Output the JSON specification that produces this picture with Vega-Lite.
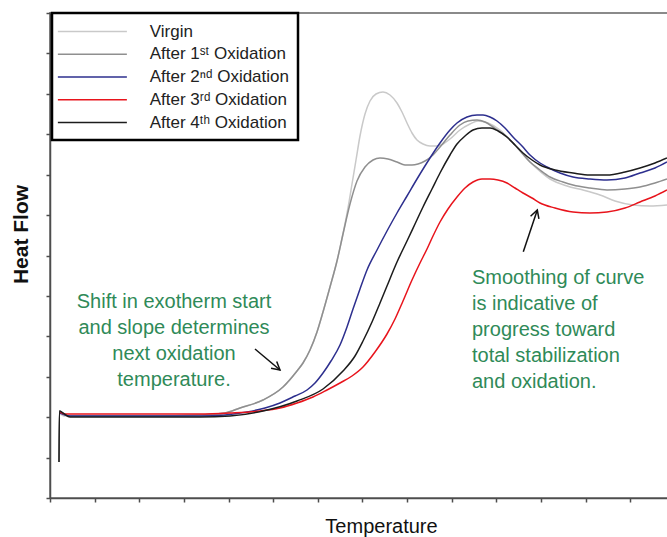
{
  "$schema": "https://vega.github.io/schema/vega-lite/v6.json",
  "width": 619,
  "height": 485,
  "autosize": {"type": "none"},
  "padding": {"left": 50, "top": 13, "right": 0, "bottom": 39},
  "background": "white",
  "config": {
    "view": {"stroke": "#8a8a8a", "strokeWidth": 2},
    "font": "Liberation Sans"
  },
  "datasets": {
    "curves": [
      {"s": "Virgin", "t": 10, "h": 85}, {"s": "Virgin", "t": 14, "h": 82}, {"s": "Virgin", "t": 50, "h": 82}, {"s": "Virgin", "t": 100, "h": 82}, {"s": "Virgin", "t": 150, "h": 83}, {"s": "Virgin", "t": 175, "h": 85}, {"s": "Virgin", "t": 190, "h": 90}, {"s": "Virgin", "t": 213, "h": 98}, {"s": "Virgin", "t": 233, "h": 111}, {"s": "Virgin", "t": 247, "h": 127}, {"s": "Virgin", "t": 253, "h": 135}, {"s": "Virgin", "t": 260, "h": 148}, {"s": "Virgin", "t": 267, "h": 166}, {"s": "Virgin", "t": 273, "h": 186}, {"s": "Virgin", "t": 280, "h": 211}, {"s": "Virgin", "t": 287, "h": 237}, {"s": "Virgin", "t": 293, "h": 264}, {"s": "Virgin", "t": 298, "h": 290}, {"s": "Virgin", "t": 302, "h": 314}, {"s": "Virgin", "t": 306, "h": 338}, {"s": "Virgin", "t": 310, "h": 362}, {"s": "Virgin", "t": 315, "h": 384}, {"s": "Virgin", "t": 320, "h": 397}, {"s": "Virgin", "t": 326, "h": 404}, {"s": "Virgin", "t": 333, "h": 406}, {"s": "Virgin", "t": 340, "h": 403}, {"s": "Virgin", "t": 347, "h": 395}, {"s": "Virgin", "t": 352, "h": 386}, {"s": "Virgin", "t": 357, "h": 375}, {"s": "Virgin", "t": 362, "h": 365}, {"s": "Virgin", "t": 367, "h": 358}, {"s": "Virgin", "t": 373, "h": 354}, {"s": "Virgin", "t": 380, "h": 352}, {"s": "Virgin", "t": 387, "h": 352}, {"s": "Virgin", "t": 393, "h": 354}, {"s": "Virgin", "t": 400, "h": 359}, {"s": "Virgin", "t": 410, "h": 368}, {"s": "Virgin", "t": 420, "h": 374}, {"s": "Virgin", "t": 428, "h": 377}, {"s": "Virgin", "t": 438, "h": 375}, {"s": "Virgin", "t": 450, "h": 368}, {"s": "Virgin", "t": 463, "h": 355}, {"s": "Virgin", "t": 480, "h": 336}, {"s": "Virgin", "t": 500, "h": 319}, {"s": "Virgin", "t": 517, "h": 312}, {"s": "Virgin", "t": 533, "h": 308}, {"s": "Virgin", "t": 550, "h": 303}, {"s": "Virgin", "t": 565, "h": 297}, {"s": "Virgin", "t": 583, "h": 293}, {"s": "Virgin", "t": 600, "h": 292}, {"s": "Virgin", "t": 617, "h": 293},

      {"s": "After 1ˢᵗ Oxidation", "t": 9, "h": 36}, {"s": "After 1ˢᵗ Oxidation", "t": 9.4, "h": 87}, {"s": "After 1ˢᵗ Oxidation", "t": 13, "h": 84}, {"s": "After 1ˢᵗ Oxidation", "t": 20, "h": 82}, {"s": "After 1ˢᵗ Oxidation", "t": 50, "h": 82}, {"s": "After 1ˢᵗ Oxidation", "t": 100, "h": 82}, {"s": "After 1ˢᵗ Oxidation", "t": 150, "h": 83}, {"s": "After 1ˢᵗ Oxidation", "t": 175, "h": 85}, {"s": "After 1ˢᵗ Oxidation", "t": 190, "h": 90}, {"s": "After 1ˢᵗ Oxidation", "t": 213, "h": 98}, {"s": "After 1ˢᵗ Oxidation", "t": 233, "h": 111}, {"s": "After 1ˢᵗ Oxidation", "t": 247, "h": 127}, {"s": "After 1ˢᵗ Oxidation", "t": 253, "h": 135}, {"s": "After 1ˢᵗ Oxidation", "t": 260, "h": 148}, {"s": "After 1ˢᵗ Oxidation", "t": 267, "h": 166}, {"s": "After 1ˢᵗ Oxidation", "t": 273, "h": 186}, {"s": "After 1ˢᵗ Oxidation", "t": 280, "h": 211}, {"s": "After 1ˢᵗ Oxidation", "t": 287, "h": 237}, {"s": "After 1ˢᵗ Oxidation", "t": 293, "h": 264}, {"s": "After 1ˢᵗ Oxidation", "t": 300, "h": 294}, {"s": "After 1ˢᵗ Oxidation", "t": 307, "h": 317}, {"s": "After 1ˢᵗ Oxidation", "t": 315, "h": 331}, {"s": "After 1ˢᵗ Oxidation", "t": 323, "h": 338}, {"s": "After 1ˢᵗ Oxidation", "t": 330, "h": 340}, {"s": "After 1ˢᵗ Oxidation", "t": 338, "h": 339}, {"s": "After 1ˢᵗ Oxidation", "t": 347, "h": 336}, {"s": "After 1ˢᵗ Oxidation", "t": 355, "h": 333}, {"s": "After 1ˢᵗ Oxidation", "t": 362, "h": 333}, {"s": "After 1ˢᵗ Oxidation", "t": 368, "h": 334}, {"s": "After 1ˢᵗ Oxidation", "t": 375, "h": 337}, {"s": "After 1ˢᵗ Oxidation", "t": 383, "h": 343}, {"s": "After 1ˢᵗ Oxidation", "t": 390, "h": 351}, {"s": "After 1ˢᵗ Oxidation", "t": 400, "h": 363}, {"s": "After 1ˢᵗ Oxidation", "t": 410, "h": 373}, {"s": "After 1ˢᵗ Oxidation", "t": 418, "h": 377}, {"s": "After 1ˢᵗ Oxidation", "t": 427, "h": 378}, {"s": "After 1ˢᵗ Oxidation", "t": 435, "h": 376}, {"s": "After 1ˢᵗ Oxidation", "t": 443, "h": 371}, {"s": "After 1ˢᵗ Oxidation", "t": 453, "h": 364}, {"s": "After 1ˢᵗ Oxidation", "t": 463, "h": 355}, {"s": "After 1ˢᵗ Oxidation", "t": 472, "h": 345}, {"s": "After 1ˢᵗ Oxidation", "t": 480, "h": 336}, {"s": "After 1ˢᵗ Oxidation", "t": 490, "h": 328}, {"s": "After 1ˢᵗ Oxidation", "t": 500, "h": 321}, {"s": "After 1ˢᵗ Oxidation", "t": 513, "h": 316}, {"s": "After 1ˢᵗ Oxidation", "t": 523, "h": 313}, {"s": "After 1ˢᵗ Oxidation", "t": 540, "h": 310}, {"s": "After 1ˢᵗ Oxidation", "t": 557, "h": 308}, {"s": "After 1ˢᵗ Oxidation", "t": 575, "h": 309}, {"s": "After 1ˢᵗ Oxidation", "t": 590, "h": 311}, {"s": "After 1ˢᵗ Oxidation", "t": 605, "h": 315}, {"s": "After 1ˢᵗ Oxidation", "t": 617, "h": 319},

      {"s": "After 2ⁿᵈ Oxidation", "t": 10, "h": 85}, {"s": "After 2ⁿᵈ Oxidation", "t": 20, "h": 82}, {"s": "After 2ⁿᵈ Oxidation", "t": 50, "h": 82}, {"s": "After 2ⁿᵈ Oxidation", "t": 100, "h": 82}, {"s": "After 2ⁿᵈ Oxidation", "t": 150, "h": 82}, {"s": "After 2ⁿᵈ Oxidation", "t": 175, "h": 83}, {"s": "After 2ⁿᵈ Oxidation", "t": 197, "h": 86}, {"s": "After 2ⁿᵈ Oxidation", "t": 215, "h": 90}, {"s": "After 2ⁿᵈ Oxidation", "t": 230, "h": 95}, {"s": "After 2ⁿᵈ Oxidation", "t": 245, "h": 102}, {"s": "After 2ⁿᵈ Oxidation", "t": 257, "h": 108}, {"s": "After 2ⁿᵈ Oxidation", "t": 265, "h": 115}, {"s": "After 2ⁿᵈ Oxidation", "t": 273, "h": 125}, {"s": "After 2ⁿᵈ Oxidation", "t": 281, "h": 137}, {"s": "After 2ⁿᵈ Oxidation", "t": 290, "h": 153}, {"s": "After 2ⁿᵈ Oxidation", "t": 297, "h": 171}, {"s": "After 2ⁿᵈ Oxidation", "t": 303, "h": 189}, {"s": "After 2ⁿᵈ Oxidation", "t": 310, "h": 209}, {"s": "After 2ⁿᵈ Oxidation", "t": 317, "h": 228}, {"s": "After 2ⁿᵈ Oxidation", "t": 327, "h": 248}, {"s": "After 2ⁿᵈ Oxidation", "t": 337, "h": 267}, {"s": "After 2ⁿᵈ Oxidation", "t": 347, "h": 285}, {"s": "After 2ⁿᵈ Oxidation", "t": 357, "h": 302}, {"s": "After 2ⁿᵈ Oxidation", "t": 367, "h": 319}, {"s": "After 2ⁿᵈ Oxidation", "t": 380, "h": 340}, {"s": "After 2ⁿᵈ Oxidation", "t": 390, "h": 355}, {"s": "After 2ⁿᵈ Oxidation", "t": 400, "h": 368}, {"s": "After 2ⁿᵈ Oxidation", "t": 407, "h": 375}, {"s": "After 2ⁿᵈ Oxidation", "t": 417, "h": 381}, {"s": "After 2ⁿᵈ Oxidation", "t": 427, "h": 383}, {"s": "After 2ⁿᵈ Oxidation", "t": 433, "h": 383}, {"s": "After 2ⁿᵈ Oxidation", "t": 440, "h": 381}, {"s": "After 2ⁿᵈ Oxidation", "t": 447, "h": 377}, {"s": "After 2ⁿᵈ Oxidation", "t": 455, "h": 370}, {"s": "After 2ⁿᵈ Oxidation", "t": 463, "h": 361}, {"s": "After 2ⁿᵈ Oxidation", "t": 472, "h": 352}, {"s": "After 2ⁿᵈ Oxidation", "t": 480, "h": 343}, {"s": "After 2ⁿᵈ Oxidation", "t": 490, "h": 335}, {"s": "After 2ⁿᵈ Oxidation", "t": 497, "h": 331}, {"s": "After 2ⁿᵈ Oxidation", "t": 510, "h": 325}, {"s": "After 2ⁿᵈ Oxidation", "t": 523, "h": 321}, {"s": "After 2ⁿᵈ Oxidation", "t": 540, "h": 319}, {"s": "After 2ⁿᵈ Oxidation", "t": 557, "h": 318}, {"s": "After 2ⁿᵈ Oxidation", "t": 575, "h": 320}, {"s": "After 2ⁿᵈ Oxidation", "t": 590, "h": 325}, {"s": "After 2ⁿᵈ Oxidation", "t": 605, "h": 330}, {"s": "After 2ⁿᵈ Oxidation", "t": 617, "h": 336},

      {"s": "After 3ʳᵈ Oxidation", "t": 10, "h": 86}, {"s": "After 3ʳᵈ Oxidation", "t": 15, "h": 84}, {"s": "After 3ʳᵈ Oxidation", "t": 50, "h": 84}, {"s": "After 3ʳᵈ Oxidation", "t": 100, "h": 84}, {"s": "After 3ʳᵈ Oxidation", "t": 150, "h": 84}, {"s": "After 3ʳᵈ Oxidation", "t": 180, "h": 85}, {"s": "After 3ʳᵈ Oxidation", "t": 210, "h": 87}, {"s": "After 3ʳᵈ Oxidation", "t": 230, "h": 90}, {"s": "After 3ʳᵈ Oxidation", "t": 247, "h": 95}, {"s": "After 3ʳᵈ Oxidation", "t": 263, "h": 101}, {"s": "After 3ʳᵈ Oxidation", "t": 277, "h": 108}, {"s": "After 3ʳᵈ Oxidation", "t": 290, "h": 115}, {"s": "After 3ʳᵈ Oxidation", "t": 302, "h": 122}, {"s": "After 3ʳᵈ Oxidation", "t": 313, "h": 131}, {"s": "After 3ʳᵈ Oxidation", "t": 325, "h": 146}, {"s": "After 3ʳᵈ Oxidation", "t": 337, "h": 164}, {"s": "After 3ʳᵈ Oxidation", "t": 345, "h": 179}, {"s": "After 3ʳᵈ Oxidation", "t": 353, "h": 197}, {"s": "After 3ʳᵈ Oxidation", "t": 362, "h": 218}, {"s": "After 3ʳᵈ Oxidation", "t": 370, "h": 235}, {"s": "After 3ʳᵈ Oxidation", "t": 377, "h": 249}, {"s": "After 3ʳᵈ Oxidation", "t": 383, "h": 262}, {"s": "After 3ʳᵈ Oxidation", "t": 390, "h": 276}, {"s": "After 3ʳᵈ Oxidation", "t": 398, "h": 289}, {"s": "After 3ʳᵈ Oxidation", "t": 407, "h": 301}, {"s": "After 3ʳᵈ Oxidation", "t": 415, "h": 310}, {"s": "After 3ʳᵈ Oxidation", "t": 423, "h": 316}, {"s": "After 3ʳᵈ Oxidation", "t": 432, "h": 319}, {"s": "After 3ʳᵈ Oxidation", "t": 440, "h": 319}, {"s": "After 3ʳᵈ Oxidation", "t": 448, "h": 318}, {"s": "After 3ʳᵈ Oxidation", "t": 457, "h": 315}, {"s": "After 3ʳᵈ Oxidation", "t": 465, "h": 310}, {"s": "After 3ʳᵈ Oxidation", "t": 473, "h": 305}, {"s": "After 3ʳᵈ Oxidation", "t": 482, "h": 300}, {"s": "After 3ʳᵈ Oxidation", "t": 490, "h": 295}, {"s": "After 3ʳᵈ Oxidation", "t": 505, "h": 290}, {"s": "After 3ʳᵈ Oxidation", "t": 523, "h": 286}, {"s": "After 3ʳᵈ Oxidation", "t": 540, "h": 285}, {"s": "After 3ʳᵈ Oxidation", "t": 557, "h": 286}, {"s": "After 3ʳᵈ Oxidation", "t": 575, "h": 290}, {"s": "After 3ʳᵈ Oxidation", "t": 590, "h": 296}, {"s": "After 3ʳᵈ Oxidation", "t": 605, "h": 302}, {"s": "After 3ʳᵈ Oxidation", "t": 617, "h": 308},

      {"s": "After 4ᵗʰ Oxidation", "t": 9, "h": 36}, {"s": "After 4ᵗʰ Oxidation", "t": 9.4, "h": 87}, {"s": "After 4ᵗʰ Oxidation", "t": 13, "h": 85}, {"s": "After 4ᵗʰ Oxidation", "t": 20, "h": 81}, {"s": "After 4ᵗʰ Oxidation", "t": 50, "h": 81}, {"s": "After 4ᵗʰ Oxidation", "t": 100, "h": 81}, {"s": "After 4ᵗʰ Oxidation", "t": 150, "h": 81}, {"s": "After 4ᵗʰ Oxidation", "t": 180, "h": 82}, {"s": "After 4ᵗʰ Oxidation", "t": 213, "h": 87}, {"s": "After 4ᵗʰ Oxidation", "t": 247, "h": 97}, {"s": "After 4ᵗʰ Oxidation", "t": 273, "h": 109}, {"s": "After 4ᵗʰ Oxidation", "t": 293, "h": 127}, {"s": "After 4ᵗʰ Oxidation", "t": 305, "h": 142}, {"s": "After 4ᵗʰ Oxidation", "t": 313, "h": 157}, {"s": "After 4ᵗʰ Oxidation", "t": 322, "h": 176}, {"s": "After 4ᵗʰ Oxidation", "t": 330, "h": 195}, {"s": "After 4ᵗʰ Oxidation", "t": 337, "h": 212}, {"s": "After 4ᵗʰ Oxidation", "t": 347, "h": 236}, {"s": "After 4ᵗʰ Oxidation", "t": 357, "h": 257}, {"s": "After 4ᵗʰ Oxidation", "t": 365, "h": 274}, {"s": "After 4ᵗʰ Oxidation", "t": 373, "h": 291}, {"s": "After 4ᵗʰ Oxidation", "t": 382, "h": 309}, {"s": "After 4ᵗʰ Oxidation", "t": 390, "h": 325}, {"s": "After 4ᵗʰ Oxidation", "t": 400, "h": 343}, {"s": "After 4ᵗʰ Oxidation", "t": 407, "h": 354}, {"s": "After 4ᵗʰ Oxidation", "t": 415, "h": 362}, {"s": "After 4ᵗʰ Oxidation", "t": 423, "h": 368}, {"s": "After 4ᵗʰ Oxidation", "t": 432, "h": 370}, {"s": "After 4ᵗʰ Oxidation", "t": 440, "h": 370}, {"s": "After 4ᵗʰ Oxidation", "t": 448, "h": 367}, {"s": "After 4ᵗʰ Oxidation", "t": 457, "h": 361}, {"s": "After 4ᵗʰ Oxidation", "t": 465, "h": 353}, {"s": "After 4ᵗʰ Oxidation", "t": 473, "h": 345}, {"s": "After 4ᵗʰ Oxidation", "t": 482, "h": 338}, {"s": "After 4ᵗʰ Oxidation", "t": 490, "h": 333}, {"s": "After 4ᵗʰ Oxidation", "t": 505, "h": 328}, {"s": "After 4ᵗʰ Oxidation", "t": 523, "h": 325}, {"s": "After 4ᵗʰ Oxidation", "t": 540, "h": 323}, {"s": "After 4ᵗʰ Oxidation", "t": 557, "h": 323}, {"s": "After 4ᵗʰ Oxidation", "t": 575, "h": 326}, {"s": "After 4ᵗʰ Oxidation", "t": 590, "h": 330}, {"s": "After 4ᵗʰ Oxidation", "t": 605, "h": 335}, {"s": "After 4ᵗʰ Oxidation", "t": 617, "h": 340}
    ],
    "notes": [
      {"side": "left", "t": 124, "h": 196, "label": "Shift in exotherm start\nand slope determines\nnext oxidation\ntemperature."},
      {"side": "right", "t": 422, "h": 220, "label": "Smoothing of curve\nis indicative of\nprogress toward\ntotal stabilization\nand oxidation."}
    ],
    "arrows": [
      {"a": "left", "t": 205, "h": 149, "t2": 230, "h2": 128},
      {"a": "right", "t": 473.3, "h": 246.3, "t2": 487.3, "h2": 288}
    ]
  },
  "layer": [
    {
      "data": {"name": "curves"},
      "mark": {"type": "line", "strokeWidth": 1.5, "interpolate": "monotone"},
      "encoding": {
        "x": {
          "field": "t", "type": "quantitative", "title": "Temperature",
          "scale": {"domain": [0, 619], "nice": false, "zero": false},
          "axis": {
            "values": [0, 22.32, 44.64, 66.96, 89.28, 111.6, 133.92, 156.24, 178.56, 200.88, 223.2, 245.52, 267.84, 290.16, 312.48, 334.8, 357.12, 379.44, 401.76, 424.08, 446.4, 468.72, 491.04, 513.36, 535.68, 558, 580.32, 602.64],
            "labels": false, "grid": false,
            "domainColor": "#4d4d4d", "domainWidth": 1.5,
            "tickColor": "#4d4d4d", "tickWidth": 1.5, "tickSize": 4,
            "titleFont": "Liberation Sans", "titleFontSize": 20, "titleFontWeight": "normal", "titleColor": "#111111",
            "titlePadding": 14, "titleX": 331
          }
        },
        "y": {
          "field": "h", "type": "quantitative", "title": "Heat Flow",
          "scale": {"domain": [0, 485], "nice": false, "zero": false},
          "axis": {
            "values": [0, 20.21, 40.42, 60.63, 80.83, 101.04, 121.25, 141.46, 161.67, 181.88, 202.08, 222.29, 242.5, 262.71, 282.92, 303.13, 323.33, 343.54, 363.75, 383.96, 404.17, 424.38, 444.58, 464.79, 485],
            "labels": false, "grid": false,
            "domainColor": "#4d4d4d", "domainWidth": 1.5,
            "tickColor": "#4d4d4d", "tickWidth": 1.5, "tickSize": 4,
            "titleFont": "Liberation Sans", "titleFontSize": 21, "titleFontWeight": "bold", "titleColor": "#111111",
            "titlePadding": 14, "titleY": 221
          }
        },
        "color": {
          "field": "s", "type": "nominal",
          "scale": {
            "domain": ["Virgin", "After 1ˢᵗ Oxidation", "After 2ⁿᵈ Oxidation", "After 3ʳᵈ Oxidation", "After 4ᵗʰ Oxidation"],
            "range": ["#c9c9c9", "#8f8f8f", "#2d2f8e", "#e8141c", "#1c1c1c"]
          },
          "legend": {
            "orient": "none", "legendX": 2, "legendY": 0, "title": null,
            "strokeColor": "#000000", "fillColor": "white", "padding": 9,
            "symbolType": "M-1.464,0H6.536", "symbolSize": 297.6, "symbolStrokeWidth": 1.5,
            "labelFont": "Liberation Sans", "labelFontSize": 17, "labelColor": "#222222",
            "labelOffset": 69.75, "rowPadding": 4.75,
            "encode": {"legend": {"update": {"strokeWidth": {"value": 2.5}, "width": {"value": 271}}}}
          }
        }
      }
    },
    {
      "data": {"name": "arrows"},
      "mark": {"type": "rule", "color": "#111111", "strokeWidth": 1.5},
      "encoding": {
        "x": {"field": "t", "type": "quantitative"},
        "y": {"field": "h", "type": "quantitative"},
        "x2": {"field": "t2"},
        "y2": {"field": "h2"}
      }
    },
    {
      "data": {"name": "arrows"},
      "transform": [{"filter": "datum.a == 'left'"}],
      "mark": {"type": "point", "shape": "M-0.55,1L0,0L0.55,1", "filled": false, "stroke": "#111111", "strokeWidth": 1.5, "size": 256, "angle": 130, "opacity": 1},
      "encoding": {
        "x": {"field": "t2", "type": "quantitative"},
        "y": {"field": "h2", "type": "quantitative"}
      }
    },
    {
      "data": {"name": "arrows"},
      "transform": [{"filter": "datum.a == 'right'"}],
      "mark": {"type": "point", "shape": "M-0.55,1L0,0L0.55,1", "filled": false, "stroke": "#111111", "strokeWidth": 1.5, "size": 256, "angle": 18.6, "opacity": 1},
      "encoding": {
        "x": {"field": "t2", "type": "quantitative"},
        "y": {"field": "h2", "type": "quantitative"}
      }
    },
    {
      "data": {"name": "notes"},
      "transform": [{"filter": "datum.side == 'left'"}],
      "mark": {"type": "text", "align": "center", "baseline": "middle", "lineBreak": "\n", "lineHeight": 26, "font": "Liberation Sans", "fontSize": 20, "color": "#2f8a58"},
      "encoding": {
        "x": {"field": "t", "type": "quantitative"},
        "y": {"field": "h", "type": "quantitative"},
        "text": {"field": "label"}
      }
    },
    {
      "data": {"name": "notes"},
      "transform": [{"filter": "datum.side == 'right'"}],
      "mark": {"type": "text", "align": "left", "baseline": "middle", "lineBreak": "\n", "lineHeight": 26, "font": "Liberation Sans", "fontSize": 20, "color": "#2f8a58"},
      "encoding": {
        "x": {"field": "t", "type": "quantitative"},
        "y": {"field": "h", "type": "quantitative"},
        "text": {"field": "label"}
      }
    }
  ]
}
